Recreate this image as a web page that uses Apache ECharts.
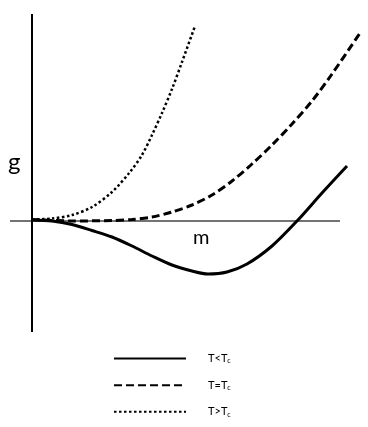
<!DOCTYPE html>
<html>
<head>
<meta charset="utf-8">
<script src="https://cdn.jsdelivr.net/npm/echarts@6/dist/echarts.min.js"></script>
<style>
    html, body { margin: 0; padding: 0; background: #fff; }
    #chart { width: 368px; height: 427px; }
</style>
</head>
<body>
<div id="chart"></div>
<script>
    // curve samples (m along, g up)
    const belowM = [0, 2, 4, 6, 8, 10, 12, 14, 16, 17.6, 19.5, 21.5, 24, 26.5, 29, 31.5];
    const belowG = [0.1, 0, -0.35, -0.95, -1.6, -2.5, -3.5, -4.4, -5.0, -5.3, -5.1, -4.3, -2.5, 0, 2.8, 5.5];

    const atM = [0, 4, 8, 10, 12, 14, 16, 18, 20, 22, 24, 26, 28, 30, 32.8];
    const atG = [0.15, 0, 0.05, 0.15, 0.4, 0.9, 1.6, 2.6, 4.0, 5.7, 7.6, 9.7, 12.0, 14.7, 18.8];

    const aboveM = [0, 2, 4, 6, 8, 9.8, 11, 12, 13, 14, 15, 16.3];
    const aboveG = [0.15, 0.25, 0.6, 1.4, 2.9, 4.9, 6.6, 8.6, 10.8, 13.2, 15.9, 19.5];

    const names = ['T<T{c|c}', 'T=T{c|c}', 'T>T{c|c}'];

    // the two drawn axes
    const hAxisM = [-2.2, 30.8];
    const vAxisG = [-11.1, 20.7];

    const pairs = (xs, ys) => xs.map((x, i) => [x, ys[i]]);

    const chart = echarts.init(document.getElementById('chart'));
    chart.setOption({
        animation: false,
        grid: {left: 10, right: 4, top: 14, bottom: 95},
        xAxis: {type: 'value', min: -2.2, max: 33.2, show: false},
        yAxis: {type: 'value', min: -11.1, max: 20.7, show: false},
        legend: {
            data: names,
            orient: 'vertical',
            left: 108,
            top: 348,
            itemWidth: 72,
            itemHeight: 14,
            itemGap: 15,
            itemStyle: {opacity: 0},
            formatter: n => n,
            textStyle: {
                fontFamily: 'Lato',
                fontSize: 11,
                color: '#000',
                padding: [0, 0, 0, 17],
                rich: {
                    c: {fontSize: 7, padding: [5, 0, 0, 0], fontFamily: 'Lato', color: '#000'}
                }
            }
        },
        graphic: [
            {type: 'text', left: 8, top: 150, style: {text: 'g', font: '24px Lato', fill: '#000'}},
            {type: 'text', left: 193, top: 228, style: {text: 'm', font: '20px Lato', fill: '#000'}}
        ],
        series: [
            {
                type: 'line', silent: true, symbol: 'none', z: 1,
                data: hAxisM.map(m => [m, 0]),
                lineStyle: {color: '#444', width: 1.5}
            },
            {
                type: 'line', silent: true, symbol: 'none', z: 1,
                data: vAxisG.map(g => [0, g]),
                lineStyle: {color: '#000', width: 2}
            },
            {
                name: names[0], type: 'line', symbol: 'none', smooth: 0.3, z: 3,
                data: pairs(belowM, belowG),
                itemStyle: {color: '#000'},
                lineStyle: {color: '#000', width: 3}
            },
            {
                name: names[1], type: 'line', symbol: 'none', smooth: 0.3, z: 3,
                data: pairs(atM, atG),
                itemStyle: {color: '#000'},
                lineStyle: {color: '#000', width: 3, type: [8, 4]}
            },
            {
                name: names[2], type: 'line', symbol: 'none', smooth: 0.3, z: 3,
                data: pairs(aboveM, aboveG),
                itemStyle: {color: '#000'},
                lineStyle: {color: '#000', width: 2.5, type: [2.5, 2.5]}
            }
        ]
    });
</script>
</body>
</html>
